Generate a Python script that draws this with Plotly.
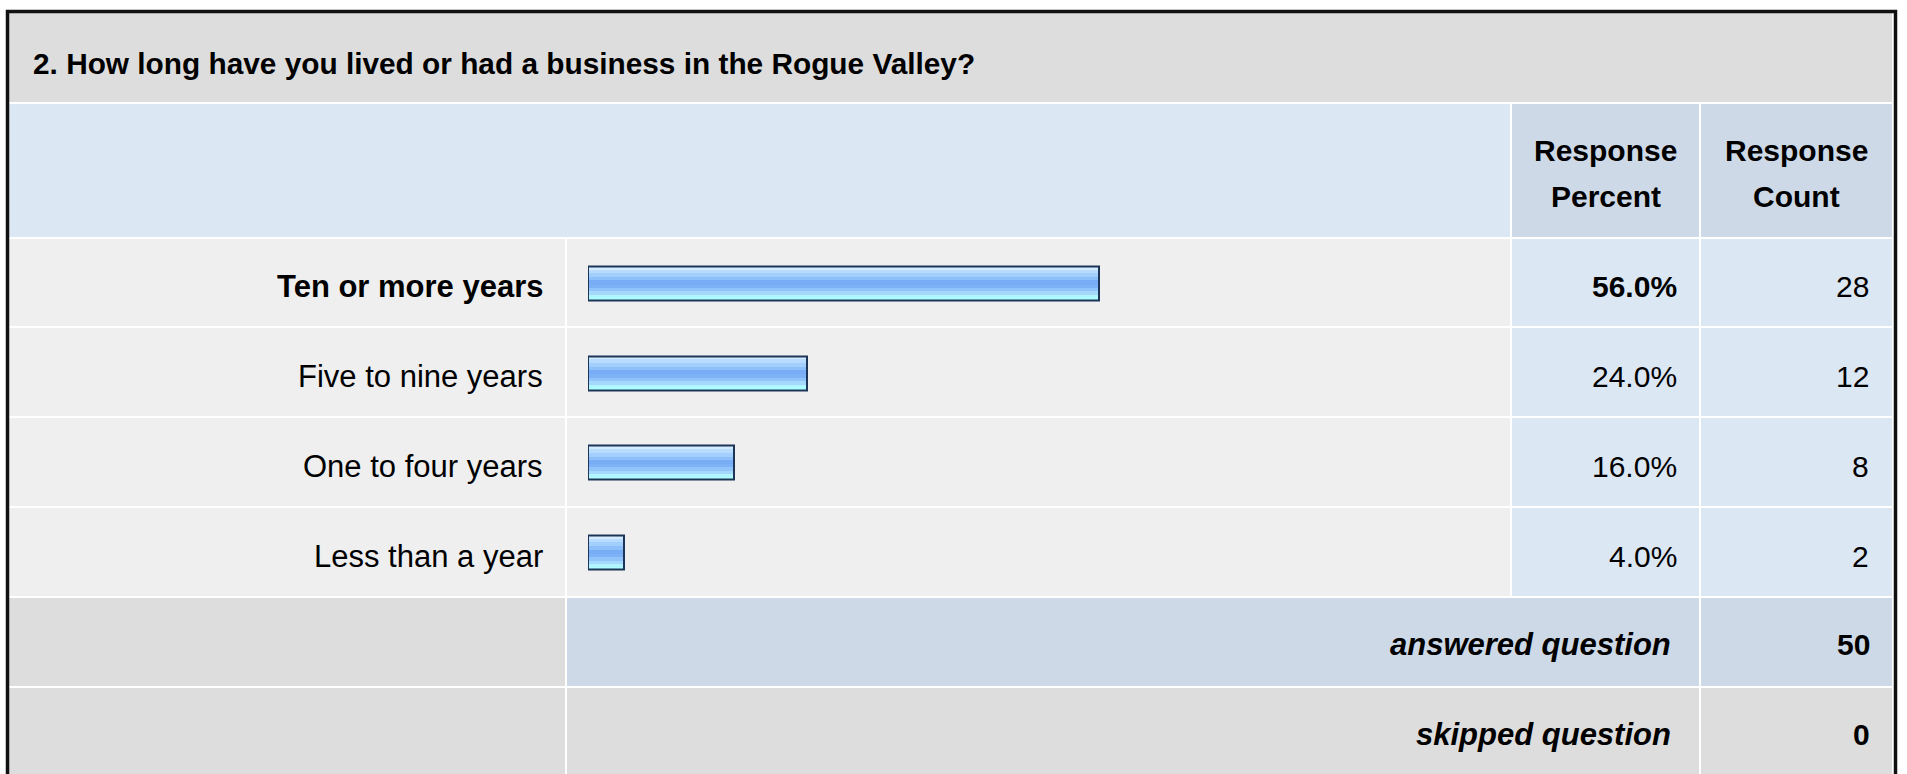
import plotly.graph_objects as go

# ---------------- data ----------------
question = "2. How long have you lived or had a business in the Rogue Valley?"
categories = ["Ten or more years", "Five to nine years", "One to four years", "Less than a year"]
percents = [56.0, 24.0, 16.0, 4.0]
counts = [28, 12, 8, 2]
answered = 50
skipped = 0
header_line1 = "Response"
header_percent = "Percent"
header_count = "Count"

# ---------------- geometry (pixels, top-left origin) ----------------
W, H = 1907, 774
FONT = "Liberation Sans, Arial, sans-serif"
FS = 30
FS_ROW = 31

def X(px):
    return px / W

def Y(py):
    return 1 - py / H

# column edges
C_LAB = (9, 565)
C_BAR = (567, 1510)
C_PCT = (1512, 1699)
C_CNT = (1701, 1892)
# row edges
R_TITLE = (13, 102)
R_HEAD = (104, 237)
ROWS = [(239, 326), (328, 416), (418, 506), (508, 596)]
R_ANS = (598, 686)
R_SKIP = (688, 790)

C_TITLE = "#dddddd"
C_HEADBLUE = "#dce7f4"
C_HEADCELL = "#cdd9e7"
C_ROWGRAY = "#efefef"
C_ROWBLUE = "#dce7f4"
C_SKIP = "#dddddd"

shapes = []

def cell(x0, x1, y0, y1, color):
    shapes.append(dict(type="rect", xref="paper", yref="paper",
                       x0=X(x0), x1=X(x1), y0=Y(y1), y1=Y(y0),
                       fillcolor=color, line=dict(width=0), layer="below"))

cell(C_LAB[0], C_CNT[1], *R_TITLE, C_TITLE)
cell(C_LAB[0], C_BAR[1], *R_HEAD, C_HEADBLUE)
cell(C_PCT[0], C_PCT[1], *R_HEAD, C_HEADCELL)
cell(C_CNT[0], C_CNT[1], *R_HEAD, C_HEADCELL)
for r in ROWS:
    cell(C_LAB[0], C_LAB[1], *r, C_ROWGRAY)
    cell(C_BAR[0], C_BAR[1], *r, C_ROWGRAY)
    cell(C_PCT[0], C_PCT[1], *r, C_ROWBLUE)
    cell(C_CNT[0], C_CNT[1], *r, C_ROWBLUE)
cell(C_LAB[0], C_LAB[1], *R_ANS, C_SKIP)
cell(C_BAR[0], C_PCT[1], *R_ANS, C_HEADCELL)
cell(C_CNT[0], C_CNT[1], *R_ANS, C_HEADCELL)
cell(C_LAB[0], C_LAB[1], *R_SKIP, C_SKIP)
cell(C_BAR[0], C_PCT[1], *R_SKIP, C_SKIP)
cell(C_CNT[0], C_CNT[1], *R_SKIP, C_SKIP)

# outer black frame
shapes.append(dict(type="rect", xref="paper", yref="paper",
                   x0=X(7.5), x1=X(1895.5), y0=Y(800), y1=Y(11.5),
                   fillcolor="rgba(0,0,0,0)", line=dict(color="#111111", width=3.5),
                   layer="above"))

# ---------------- bars ----------------
fig = go.Figure()
ypos = list(range(len(categories)))
y_top = ROWS[0][0] - 0.5
y_bot = ROWS[-1][1] + 1.5
row_px = (y_bot - y_top) / len(ROWS)
bar_px = 34.0
bw = bar_px / row_px

stripes = ["#d4eaff", "#b8dcff", "#a2cffe", "#8dc0fa", "#78acf4", "#7db2f6",
           "#90c4fa", "#a4d8fd", "#b2f4ff", "#acfefe"]
sfr = [0.08, 0.10, 0.12, 0.10, 0.12, 0.10, 0.10, 0.10, 0.08, 0.10]
acc = -bw / 2
for c, f in zip(stripes, sfr):
    w = bw * f
    fig.add_trace(go.Bar(x=percents, y=ypos, orientation="h",
                         width=w * 1.02, offset=acc, marker=dict(color=c, line=dict(width=0)),
                         hoverinfo="skip", showlegend=False))
    acc += w
fig.add_trace(go.Bar(x=percents, y=ypos, orientation="h", width=bw,
                     marker=dict(color="rgba(0,0,0,0)", line=dict(color="#1d3658", width=2)),
                     hoverinfo="skip", showlegend=False))

# ---------------- text ----------------
ann = []

def text(x, y, t, anchor="right", size=FS, align="right"):
    ann.append(dict(x=X(x), y=Y(y), xref="paper", yref="paper", text=t,
                    showarrow=False, xanchor=anchor, yanchor="middle", align=align,
                    font=dict(family=FONT, size=size, color="#000000")))

text(31, 63.5, "<b>" + question + "</b>", anchor="left", align="left", size=29.8)
pc = (C_PCT[0] + C_PCT[1]) / 2
cc = (C_CNT[0] + C_CNT[1]) / 2
text(pc, 150, "<b>" + header_line1 + "</b>", anchor="center", align="center")
text(pc, 196.5, "<b>" + header_percent + "</b>", anchor="center", align="center")
text(cc, 150, "<b>" + header_line1 + "</b>", anchor="center", align="center")
text(cc, 196.5, "<b>" + header_count + "</b>", anchor="center", align="center")
top = max(percents)
for i, (cat, p, n) in enumerate(zip(categories, percents, counts)):
    yc = (ROWS[i][0] + ROWS[i][1]) / 2 + 4
    bold = p == top
    lab = f"<b>{cat}</b>" if bold else cat
    pt = f"{p:.1f}%"
    pt = f"<b>{pt}</b>" if bold else pt
    text(545, yc, lab, size=FS_ROW)
    text(1679, yc, pt)
    text(1871, yc, str(n))
text(1673, (R_ANS[0] + R_ANS[1]) / 2 + 2, "<b><i>answered question</i></b>", size=FS_ROW)
text(1872, (R_ANS[0] + R_ANS[1]) / 2 + 2, f"<b>{answered}</b>")
text(1673, 734, "<b><i>skipped question</i></b>", size=FS_ROW)
text(1872, 734, f"<b>{skipped}</b>")

fig.update_layout(
    width=W, height=H, margin=dict(l=0, r=0, t=0, b=0),
    paper_bgcolor="#ffffff", plot_bgcolor="rgba(0,0,0,0)",
    barmode="overlay", bargap=0,
    shapes=shapes, annotations=ann,
    xaxis=dict(domain=[X(588), X(588 + 912)], range=[0, 100],
               visible=False, fixedrange=True),
    yaxis=dict(domain=[Y(y_bot), Y(y_top)],
               range=[len(categories) - 0.5, -0.5], visible=False, fixedrange=True),
    font=dict(family=FONT),
)

fig.write_html("out.html", config={"displayModeBar": False},
               post_script="document.body.style.margin='0';document.body.style.overflow='hidden';")
